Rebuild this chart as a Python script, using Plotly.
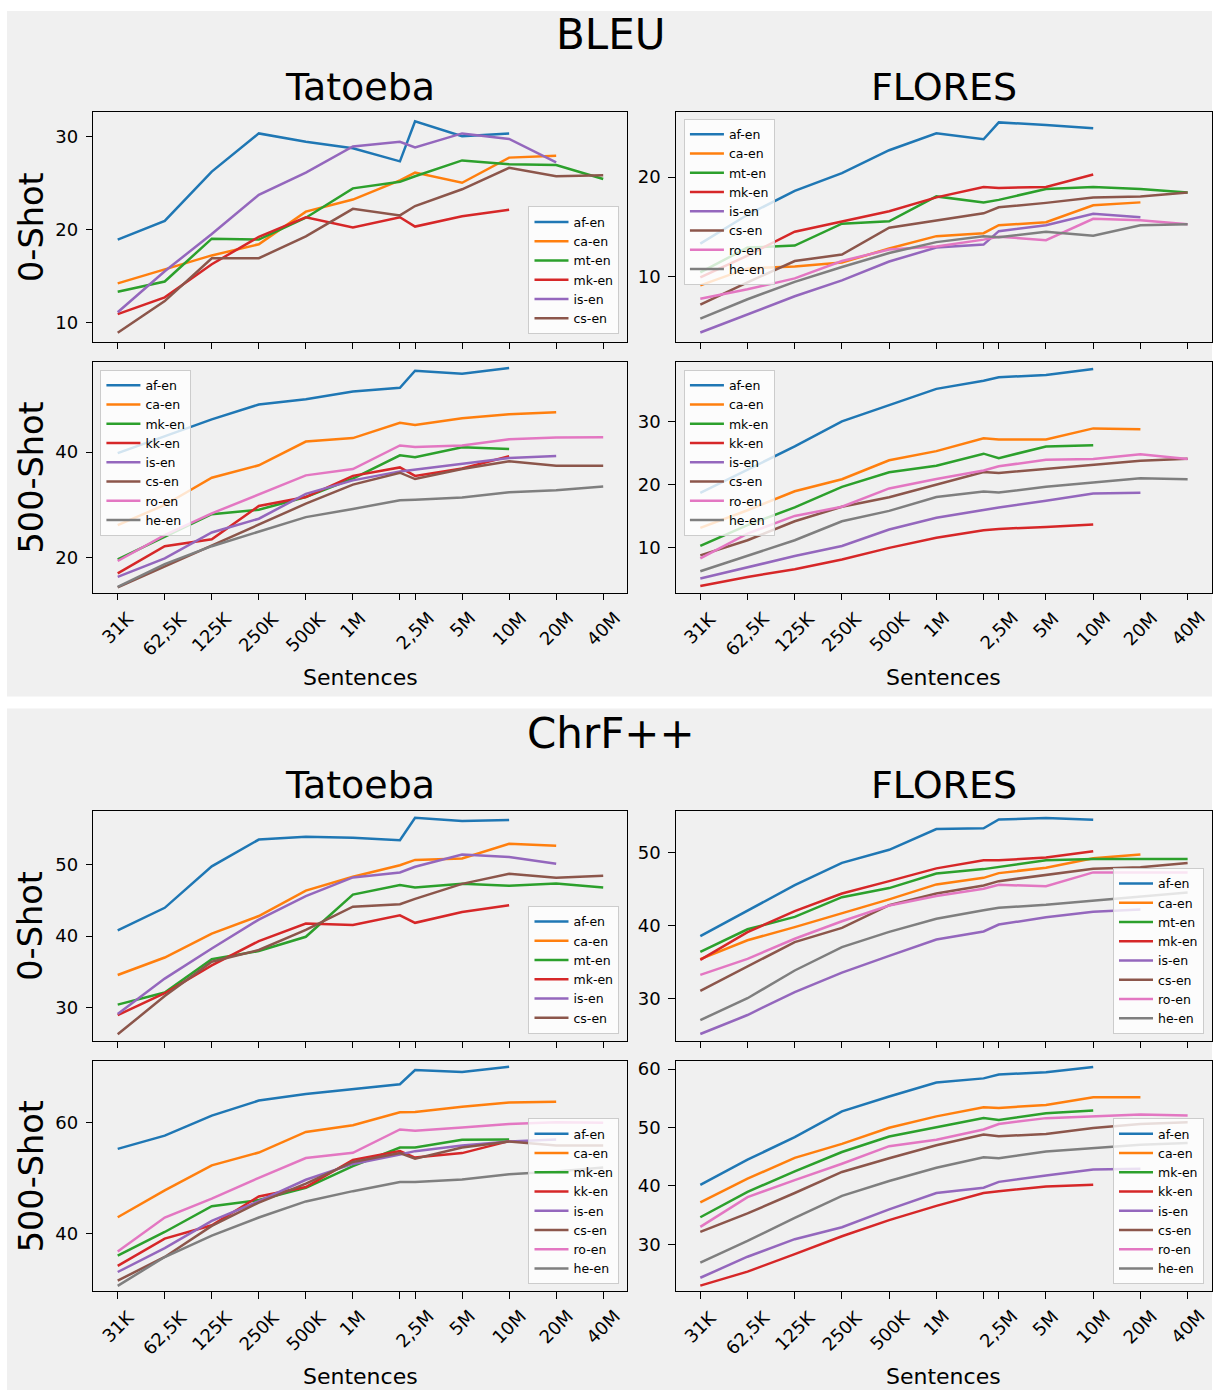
import math
import plotly.graph_objects as go

W, H = 1213, 1390

# ---------------- x axis (training sentences) ----------------
sentences = [31250, 62500, 125000, 250000, 500000, 1000000, 2000000,
             2500000, 5000000, 10000000, 20000000, 40000000]
sentence_labels = ["31K", "62,5K", "125K", "250K", "500K", "1M", "",
                   "2,5M", "5M", "10M", "20M", "40M"]

# ---------------- BLEU / Tatoeba / 0-shot ----------------
bleu_tat0_af = [18.9, 20.9, 26.2, 30.3, 29.4, 28.7, 27.3, 31.6, 30.0, 30.3]
bleu_tat0_ca = [14.2, 15.7, 17.2, 18.4, 21.9, 23.2, 25.25, 26.1, 25.0, 27.7, 27.9]
bleu_tat0_mt = [13.3, 14.4, 19.0, 18.9, 21.25, 24.4, 25.1, 25.7, 27.4, 27.0, 26.9, 25.4]
bleu_tat0_mk = [10.9, 12.7, 16.25, 19.2, 21.3, 20.2, 21.3, 20.3, 21.4, 22.1]
bleu_tat0_is = [11.1, 15.5, 19.5, 23.7, 26.1, 28.9, 29.4, 28.8, 30.3, 29.7, 27.2]
bleu_tat0_cs = [8.9, 12.3, 16.9, 16.9, 19.25, 22.2, 21.5, 22.5, 24.3, 26.6, 25.7, 25.8]

# ---------------- BLEU / FLORES / 0-shot ----------------
bleu_flo0_af = [13.3, 16.2, 18.6, 20.4, 22.7, 24.4, 23.8, 25.5, 25.25, 24.9]
bleu_flo0_ca = [9.1, 10.8, 11.0, 11.4, 12.8, 14.05, 14.35, 15.15, 15.45, 17.15, 17.45]
bleu_flo0_mt = [10.4, 12.9, 13.1, 15.3, 15.55, 18.05, 17.45, 17.7, 18.8, 19.0, 18.8, 18.45]
bleu_flo0_mk = [9.9, 12.1, 14.5, 15.55, 16.55, 17.95, 19.0, 18.9, 19.0, 20.25]
bleu_flo0_is = [4.35, 6.2, 8.0, 9.6, 11.5, 12.9, 13.2, 14.55, 15.15, 16.3, 15.95]
bleu_flo0_cs = [7.15, 9.4, 11.55, 12.2, 14.9, 15.65, 16.35, 16.95, 17.4, 17.95, 18.05, 18.45]
bleu_flo0_ro = [7.75, 8.7, 9.8, 11.55, 12.7, 13.0, 13.7, 14.0, 13.65, 15.8, 15.65, 15.25]
bleu_flo0_he = [5.75, 7.7, 9.45, 10.95, 12.35, 13.45, 14.05, 13.95, 14.5, 14.1, 15.15, 15.25]

# ---------------- BLEU / Tatoeba / 500-shot ----------------
bleu_tat5_af = [39.8, 43.0, 46.2, 49.0, 50.0, 51.45, 52.15, 55.4, 54.8, 55.9]
bleu_tat5_ca = [26.2, 30.0, 35.15, 37.5, 42.0, 42.65, 45.55, 45.15, 46.4, 47.15, 47.55]
bleu_tat5_mk = [19.7, 24.0, 28.25, 29.1, 31.5, 35.0, 39.4, 39.05, 40.9, 40.6]
bleu_tat5_kk = [17.05, 22.2, 23.5, 29.8, 31.5, 35.5, 37.1, 35.5, 36.9, 39.2]
bleu_tat5_is = [16.4, 19.9, 24.8, 27.4, 32.1, 34.65, 36.35, 36.7, 37.8, 38.9, 39.25]
bleu_tat5_cs = [14.4, 18.4, 22.4, 26.3, 30.25, 33.85, 36.1, 34.9, 36.8, 38.25, 37.4, 37.4]
bleu_tat5_ro = [19.4, 24.3, 28.4, 32.0, 35.6, 36.8, 41.25, 40.95, 41.25, 42.45, 42.75, 42.8]
bleu_tat5_he = [14.5, 18.8, 22.2, 24.9, 27.7, 29.25, 30.9, 31.0, 31.4, 32.4, 32.8, 33.5]

# ---------------- BLEU / FLORES / 500-shot ----------------
bleu_flo5_af = [18.7, 22.4, 26.05, 30.0, 32.6, 35.15, 36.45, 37.0, 37.35, 38.3]
bleu_flo5_ca = [13.15, 15.95, 18.95, 20.85, 23.85, 25.3, 27.35, 27.15, 27.15, 28.9, 28.75]
bleu_flo5_mk = [10.3, 13.6, 16.4, 19.65, 21.95, 23.0, 24.9, 24.2, 26.05, 26.25]
bleu_flo5_kk = [3.95, 5.4, 6.6, 8.15, 10.0, 11.6, 12.8, 13.0, 13.3, 13.7]
bleu_flo5_is = [5.15, 6.9, 8.7, 10.3, 12.9, 14.75, 15.95, 16.4, 17.45, 18.6, 18.7]
bleu_flo5_cs = [8.8, 11.2, 14.2, 16.5, 18.0, 20.0, 22.0, 21.85, 22.5, 23.1, 23.8, 24.1]
bleu_flo5_ro = [8.35, 12.25, 15.05, 16.5, 19.4, 20.9, 22.25, 22.9, 23.95, 24.05, 24.8, 24.05]
bleu_flo5_he = [6.3, 8.7, 11.2, 14.2, 15.85, 18.05, 18.9, 18.75, 19.65, 20.35, 21.0, 20.85]

# ---------------- ChrF++ / Tatoeba / 0-shot ----------------
chrf_tat0_af = [40.8, 43.95, 49.75, 53.5, 53.9, 53.75, 53.4, 56.55, 56.1, 56.25]
chrf_tat0_ca = [34.55, 37.0, 40.35, 42.8, 46.35, 48.3, 49.9, 50.65, 50.85, 52.9, 52.65]
chrf_tat0_mt = [30.4, 32.1, 36.75, 37.9, 39.9, 45.8, 47.15, 46.8, 47.3, 47.05, 47.35, 46.8]
chrf_tat0_mk = [28.95, 32.0, 35.9, 39.3, 41.75, 41.55, 42.9, 41.85, 43.35, 44.3]
chrf_tat0_is = [29.1, 34.05, 38.25, 42.3, 45.6, 48.2, 48.9, 49.7, 51.4, 51.05, 50.1]
chrf_tat0_cs = [26.25, 31.6, 36.4, 38.05, 40.85, 44.1, 44.45, 45.2, 47.3, 48.7, 48.15, 48.45]

# ---------------- ChrF++ / FLORES / 0-shot ----------------
chrf_flo0_af = [38.5, 42.0, 45.5, 48.55, 50.35, 53.2, 53.3, 54.5, 54.7, 54.45]
chrf_flo0_ca = [35.35, 37.95, 39.75, 41.6, 43.55, 45.6, 46.5, 47.15, 47.9, 49.2, 49.7]
chrf_flo0_mt = [36.35, 39.45, 41.15, 43.85, 45.1, 47.1, 47.7, 48.0, 48.9, 49.1, 49.1, 49.1]
chrf_flo0_mk = [35.25, 39.05, 41.95, 44.35, 46.05, 47.8, 48.9, 48.9, 49.3, 50.15]
chrf_flo0_is = [25.1, 27.7, 30.85, 33.5, 35.8, 38.05, 39.15, 40.1, 41.1, 41.85, 42.15]
chrf_flo0_cs = [31.0, 34.4, 37.7, 39.65, 42.75, 44.35, 45.45, 46.05, 46.85, 47.75, 47.95, 48.55]
chrf_flo0_ro = [33.2, 35.4, 38.15, 40.55, 42.7, 44.0, 45.0, 45.55, 45.35, 47.25, 47.25, 47.25]
chrf_flo0_he = [27.0, 30.0, 33.8, 37.0, 39.1, 40.9, 42.05, 42.4, 42.8, 43.4, 44.0, 44.5]

# ---------------- ChrF++ / Tatoeba / 500-shot ----------------
chrf_tat5_af = [55.25, 57.65, 61.25, 63.95, 65.15, 66.05, 66.9, 69.45, 69.1, 70.05]
chrf_tat5_ca = [42.95, 47.8, 52.3, 54.6, 58.3, 59.5, 61.85, 61.9, 62.85, 63.6, 63.75]
chrf_tat5_mk = [36.05, 40.3, 44.95, 46.05, 48.25, 52.15, 55.5, 55.5, 56.9, 56.95]
chrf_tat5_kk = [34.2, 39.1, 41.5, 46.7, 48.4, 53.25, 54.85, 53.7, 54.5, 56.65]
chrf_tat5_is = [33.1, 37.4, 42.3, 45.85, 49.7, 52.55, 54.25, 54.85, 55.85, 56.6, 56.95]
chrf_tat5_cs = [31.55, 35.8, 41.4, 45.6, 49.0, 52.9, 54.5, 53.5, 55.5, 56.6, 55.85, 55.85]
chrf_tat5_ro = [36.8, 42.9, 46.3, 50.05, 53.6, 54.55, 58.75, 58.5, 59.1, 59.75, 60.05, 59.95]
chrf_tat5_he = [30.6, 35.8, 39.65, 42.9, 45.8, 47.65, 49.3, 49.3, 49.75, 50.7, 51.2, 51.9]

# ---------------- ChrF++ / FLORES / 500-shot ----------------
chrf_flo5_af = [40.2, 44.5, 48.35, 52.75, 55.3, 57.7, 58.4, 59.05, 59.45, 60.35]
chrf_flo5_ca = [37.2, 41.25, 44.8, 47.2, 49.95, 51.9, 53.45, 53.35, 53.85, 55.15, 55.15]
chrf_flo5_mk = [34.65, 39.0, 42.5, 45.8, 48.45, 50.05, 51.6, 51.3, 52.45, 52.9]
chrf_flo5_kk = [22.95, 25.35, 28.35, 31.4, 34.15, 36.6, 38.8, 39.1, 39.9, 40.2]
chrf_flo5_is = [24.3, 27.9, 30.9, 32.95, 36.0, 38.8, 39.7, 40.7, 41.8, 42.8, 42.95]
chrf_flo5_cs = [32.15, 35.3, 38.8, 42.4, 44.75, 46.95, 48.8, 48.5, 48.9, 49.9, 50.6, 50.9]
chrf_flo5_ro = [33.0, 38.1, 41.0, 43.8, 46.8, 47.9, 49.65, 50.6, 51.6, 51.9, 52.2, 52.05]
chrf_flo5_he = [26.9, 30.6, 34.55, 38.3, 40.85, 43.1, 44.9, 44.75, 45.9, 46.5, 47.05, 47.35]

# ---------------- tick values of the y axes ----------------
yt_bleu_tat0 = [10, 20, 30]
yt_bleu_flo0 = [10, 20]
yt_bleu_tat5 = [20, 40]
yt_bleu_flo5 = [10, 20, 30]
yt_chrf_tat0 = [30, 40, 50]
yt_chrf_flo0 = [30, 40, 50]
yt_chrf_tat5 = [40, 60]
yt_chrf_flo5 = [30, 40, 50, 60]

COLORS = ["#1f77b4", "#ff7f0e", "#2ca02c", "#d62728",
          "#9467bd", "#8c564b", "#e377c2", "#7f7f7f"]

FONT = "DejaVu Sans"
TICK_FS = 18

# column boxes (pixels)
TAT_X = (93.5, 628.0)
FLO_X = (676.5, 1213.0)
# row boxes (pixels)
ROWS = {"b0": (109.5, 339.5), "b5": (360.0, 591.0),
        "c0": (809.5, 1040.0), "c5": (1060.7, 1291.0)}

panels = [
    dict(series=[("af-en", bleu_tat0_af), ("ca-en", bleu_tat0_ca), ("mt-en", bleu_tat0_mt),
                 ("mk-en", bleu_tat0_mk), ("is-en", bleu_tat0_is), ("cs-en", bleu_tat0_cs)],
         xb=TAT_X, yb=ROWS["b0"], yr=[7.93, 32.57], yt=yt_bleu_tat0, bottom=False,
         leg=(620, 332, "right", "bottom")),
    dict(series=[("af-en", bleu_flo0_af), ("ca-en", bleu_flo0_ca), ("mt-en", bleu_flo0_mt),
                 ("mk-en", bleu_flo0_mk), ("is-en", bleu_flo0_is), ("cs-en", bleu_flo0_cs),
                 ("ro-en", bleu_flo0_ro), ("he-en", bleu_flo0_he)],
         xb=FLO_X, yb=ROWS["b0"], yr=[3.42, 26.52], yt=yt_bleu_flo0, bottom=False,
         leg=(684.5, 116, "left", "top")),
    dict(series=[("af-en", bleu_tat5_af), ("ca-en", bleu_tat5_ca), ("mk-en", bleu_tat5_mk),
                 ("kk-en", bleu_tat5_kk), ("is-en", bleu_tat5_is), ("cs-en", bleu_tat5_cs),
                 ("ro-en", bleu_tat5_ro), ("he-en", bleu_tat5_he)],
         xb=TAT_X, yb=ROWS["b5"], yr=[13.4, 57.0], yt=yt_bleu_tat5, bottom=True,
         leg=(100.5, 367.5, "left", "top")),
    dict(series=[("af-en", bleu_flo5_af), ("ca-en", bleu_flo5_ca), ("mk-en", bleu_flo5_mk),
                 ("kk-en", bleu_flo5_kk), ("is-en", bleu_flo5_is), ("cs-en", bleu_flo5_cs),
                 ("ro-en", bleu_flo5_ro), ("he-en", bleu_flo5_he)],
         xb=FLO_X, yb=ROWS["b5"], yr=[2.9, 39.37], yt=yt_bleu_flo5, bottom=True,
         leg=(684.5, 367.5, "left", "top")),
    dict(series=[("af-en", chrf_tat0_af), ("ca-en", chrf_tat0_ca), ("mt-en", chrf_tat0_mt),
                 ("mk-en", chrf_tat0_mk), ("is-en", chrf_tat0_is), ("cs-en", chrf_tat0_cs)],
         xb=TAT_X, yb=ROWS["c0"], yr=[25.35, 57.53], yt=yt_chrf_tat0, bottom=False,
         leg=(620, 1033, "right", "bottom")),
    dict(series=[("af-en", chrf_flo0_af), ("ca-en", chrf_flo0_ca), ("mt-en", chrf_flo0_mt),
                 ("mk-en", chrf_flo0_mk), ("is-en", chrf_flo0_is), ("cs-en", chrf_flo0_cs),
                 ("ro-en", chrf_flo0_ro), ("he-en", chrf_flo0_he)],
         xb=FLO_X, yb=ROWS["c0"], yr=[24.17, 55.7], yt=yt_chrf_flo0, bottom=False,
         leg=(1205, 1033, "right", "bottom")),
    dict(series=[("af-en", chrf_tat5_af), ("ca-en", chrf_tat5_ca), ("mk-en", chrf_tat5_mk),
                 ("kk-en", chrf_tat5_kk), ("is-en", chrf_tat5_is), ("cs-en", chrf_tat5_cs),
                 ("ro-en", chrf_tat5_ro), ("he-en", chrf_tat5_he)],
         xb=TAT_X, yb=ROWS["c5"], yr=[29.64, 71.0], yt=yt_chrf_tat5, bottom=True,
         leg=(620, 1284, "right", "bottom")),
    dict(series=[("af-en", chrf_flo5_af), ("ca-en", chrf_flo5_ca), ("mk-en", chrf_flo5_mk),
                 ("kk-en", chrf_flo5_kk), ("is-en", chrf_flo5_is), ("cs-en", chrf_flo5_cs),
                 ("ro-en", chrf_flo5_ro), ("he-en", chrf_flo5_he)],
         xb=FLO_X, yb=ROWS["c5"], yr=[22.0, 61.3], yt=yt_chrf_flo5, bottom=True,
         leg=(1205, 1284, "right", "bottom")),
]

lo = math.log10(sentences[0])
hi = math.log10(sentences[-1])
pad = 0.05 * (hi - lo)
XRANGE = [lo - pad, hi + pad]

fig = go.Figure()
layout = {}
annotations = []

for i, p in enumerate(panels, start=1):
    sfx = "" if i == 1 else str(i)
    xref, yref = "x" + sfx, "y" + sfx
    lg = "legend" + sfx
    for k, (name, vals) in enumerate(p["series"]):
        fig.add_trace(go.Scatter(
            x=sentences[:len(vals)], y=vals, mode="lines", name=name,
            line=dict(color=COLORS[k], width=2.5),
            xaxis=xref, yaxis=yref, legend=lg, showlegend=True,
            hoverinfo="x+y+name"))
    x0, x1 = p["xb"]
    y0, y1 = p["yb"]
    common = dict(ticks="outside", ticklen=6.5, tickwidth=1.3, tickcolor="black",
                  showline=True, linecolor="black", linewidth=1.3, mirror=True,
                  showgrid=False, zeroline=False)
    layout["xaxis" + sfx] = dict(domain=[x0 / W, x1 / W], anchor=yref, type="log",
                                 range=XRANGE, tickvals=sentences, ticktext=sentence_labels,
                                 showticklabels=False, **common)
    layout["yaxis" + sfx] = dict(domain=[1 - y1 / H, 1 - y0 / H], anchor=xref,
                                 range=p["yr"], tickvals=p["yt"],
                                 tickfont=dict(size=TICK_FS, color="black", family=FONT),
                                 ticklabelstandoff=4, **common)
    lx, ly, xa, ya = p["leg"]
    layout[lg] = dict(x=lx / W, y=1 - ly / H, xanchor=xa, yanchor=ya,
                      bgcolor="rgba(255,255,255,0.8)", bordercolor="#cccccc",
                      borderwidth=1, font=dict(size=12.5, color="black", family=FONT),
                      itemwidth=34, tracegroupgap=0, traceorder="normal")
    if p["bottom"]:
        for v, lab in zip(sentences, sentence_labels):
            if not lab:
                continue
            annotations.append(dict(
                x=math.log10(v), xref=xref, y=1 - (y1 + 12) / H, yref="paper",
                text=lab, showarrow=False, textangle=-45, xanchor="center",
                yanchor="top", font=dict(size=TICK_FS, color="black", family=FONT)))
        annotations.append(dict(
            x=(x0 + x1) / 2 / W, xref="paper", y=1 - (y1 + 85) / H, yref="paper",
            text="Sentences", showarrow=False, xanchor="center", yanchor="middle",
            font=dict(size=22, color="black", family=FONT)))


def txt(text, xpx, ypx, size, angle=0):
    annotations.append(dict(x=xpx / W, y=1 - ypx / H, xref="paper", yref="paper",
                            text=text, showarrow=False, textangle=angle,
                            xanchor="center", yanchor="middle",
                            font=dict(size=size, color="black", family=FONT)))


for off, title in [(0, "BLEU"), (700, "ChrF++")]:
    txt(title, 612, 32 + off, 42)
    txt("Tatoeba", (TAT_X[0] + TAT_X[1]) / 2, 84 + off, 38)
    txt("FLORES", (FLO_X[0] + FLO_X[1]) / 2, 84 + off, 38)

txt("0-Shot", 31, (ROWS["b0"][0] + ROWS["b0"][1]) / 2, 33.5, -90)
txt("500-Shot", 31, (ROWS["b5"][0] + ROWS["b5"][1]) / 2, 33.5, -90)
txt("0-Shot", 31, (ROWS["c0"][0] + ROWS["c0"][1]) / 2, 33.5, -90)
txt("500-Shot", 31, (ROWS["c5"][0] + ROWS["c5"][1]) / 2, 33.5, -90)

shapes = [
    dict(type="rect", xref="paper", yref="paper", x0=7 / W, x1=1, y0=1 - 695 / H,
         y1=1 - 8 / H, fillcolor="#f0f0f0", line=dict(width=0), layer="below"),
    dict(type="rect", xref="paper", yref="paper", x0=7 / W, x1=1, y0=0,
         y1=1 - 707 / H, fillcolor="#f0f0f0", line=dict(width=0), layer="below"),
]

fig.update_layout(width=W, height=H, margin=dict(l=0, r=0, t=0, b=0),
                  paper_bgcolor="white", plot_bgcolor="white",
                  font=dict(family=FONT, color="black"),
                  showlegend=True, annotations=annotations, shapes=shapes,
                  **layout)

fig.write_html("out.html",
               config={"displayModeBar": False},
               post_script="document.body.style.margin='0px';"
                           "document.body.style.overflow='hidden';")
